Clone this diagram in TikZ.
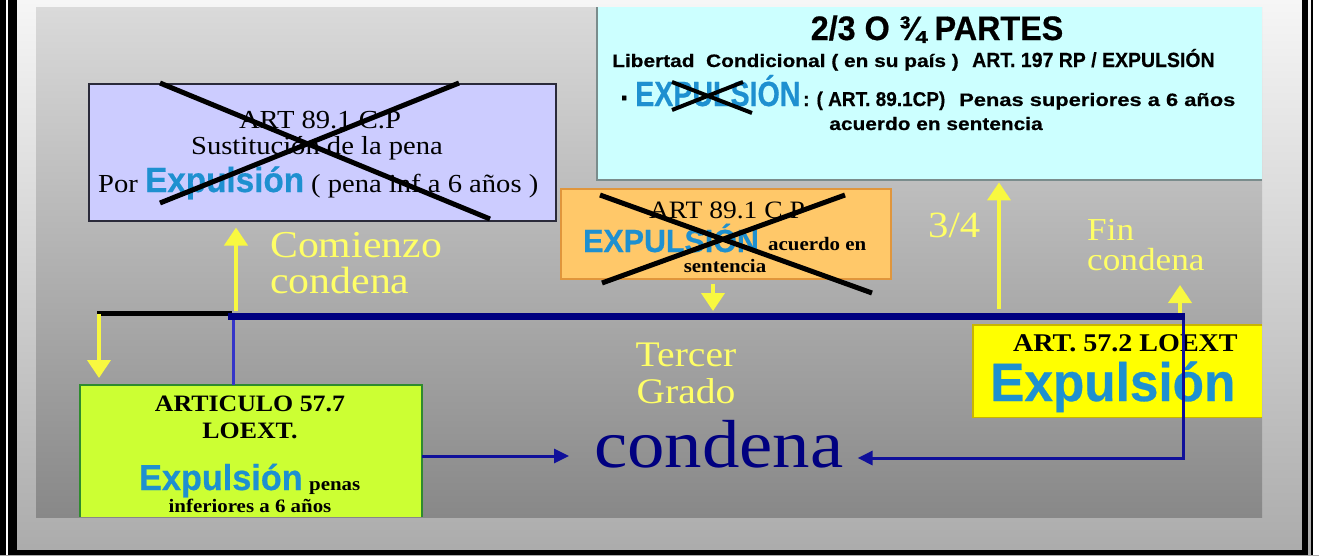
\documentclass[tikz,border=0pt]{standalone}
\usepackage{fontspec}
\usepackage{graphicx}
\setmainfont{Liberation Serif}[FakeStretch=1.1]
\newfontfamily\cond{Liberation Sans}[UprightFont={* Bold},FakeStretch=0.95,FakeBold=0.5]
\usetikzlibrary{arrows.meta}
\newcommand\myfs[1]{\fontsize{#1}{#1}\selectfont}
\newcommand\widen[2][1.25]{\scalebox{#1}[1]{#2}}
\definecolor{panelTop}{HTML}{DADADA}
\definecolor{panelBot}{HTML}{888888}
\definecolor{outTop}{HTML}{F6F6F6}
\definecolor{outBot}{HTML}{ABABAB}
\definecolor{cyanbox}{HTML}{CCFFFF}
\definecolor{cyanedge}{HTML}{7A8C8C}
\definecolor{purplebox}{HTML}{CCCCFF}
\definecolor{purpleedge}{HTML}{2A2A3A}
\definecolor{orangebox}{HTML}{FFC869}
\definecolor{orangeedge}{HTML}{E0963C}
\definecolor{greenbox}{HTML}{CCFF33}
\definecolor{greenedge}{HTML}{2E8B2E}
\definecolor{yellowbox}{HTML}{FFFF00}
\definecolor{yedge}{HTML}{C8B400}
\definecolor{expblue}{HTML}{1E90D0}
\definecolor{navy}{HTML}{000080}
\definecolor{arrowblue}{HTML}{10109A}
\definecolor{thinblue}{HTML}{3535C8}
\definecolor{ylw}{HTML}{F8F840}
\definecolor{ytext}{HTML}{FFFF66}
\begin{document}
\begin{tikzpicture}[x=1pt,y=-1pt,
  txt/.style={inner sep=0pt, anchor=base},
  txtw/.style={inner sep=0pt, anchor=base west},
  cross/.style={line width=5pt, black},
  ylarrow/.style={draw=ylw, line width=4pt, -{Triangle[length=18pt,width=23pt]}},
  blarrow/.style={draw=arrowblue, line width=3pt, -{Triangle[length=15pt,width=14pt]}},
  boxnode/.style={anchor=north west, inner sep=0pt}]
\useasboundingbox (0,0) rectangle (1319,555);
% backgrounds
\shade[top color=outTop,bottom color=outBot] (0,0) rectangle (1319,555);
\shade[top color=panelTop,bottom color=panelBot] (36,7) rectangle (1262,517);
% frame
\fill[black] (0,0) rectangle (6,555);
\fill[white] (6,0) rectangle (8,555);
\fill[black] (8,0) rectangle (17,555);
\fill[black] (17,550) rectangle (1308,555);
\fill[black] (1302,0) rectangle (1308,555);
\fill[black] (1311,0) rectangle (1313,555);
\fill[white] (1313,0) rectangle (1319,555);

% cyan box
\node[boxnode, fill=cyanbox, minimum width=665pt, minimum height=173pt] (cyanbox) at (597,7) {};
\draw[cyanedge, line width=2pt] (cyanbox.north west) -- (cyanbox.south west) -- (cyanbox.south east);
\node[txt, font=\cond\myfs{34}] (c1) at (937,40) {2/3 O ¾ PARTES};
\node[txtw, font=\cond] (c2a) at (612,67) {\myfs{18}\widen[1.22]{Libertad\ \ Condicional ( en su país )}};
\node[txtw, font=\cond\myfs{20.5}] (c2b) at (972,67) {ART. 197 RP / EXPULSIÓN};
\node[txt, font=\cond\myfs{30}] (bul) at (625,108) {·};
\node[txtw, font=\cond\myfs{35}, text=expblue] (cexp) at (635,106) {\widen[0.86]{EXPULSIÓN}};
\node[txtw, font=\cond\myfs{20}] (c3b) at (803,106) {: ( ART. 89.1CP)};
\node[txtw, font=\cond] (c3c) at (959,106) {\myfs{18}\widen[1.28]{Penas superiores a 6 años}};
\node[txt, font=\cond] (c4) at (936,130) {\myfs{18}\widen[1.22]{acuerdo en sentencia}};
\draw[line width=4pt] (672,82) -- (752,113);
\draw[line width=4pt] (672,110) -- (743,82);

% purple box
\node[boxnode, draw=purpleedge, line width=1.5pt, fill=purplebox, minimum width=467pt, minimum height=137pt] (purple) at (88,83) {};
\node[txt, font=\myfs{26}] (p1) at (320,128) {ART 89.1 C.P};
\node[txt, font=\myfs{26}] (p2) at (317,154) {Sustitución de la pena};
\node[txtw, font=\myfs{26}] (p3a) at (98,192) {Por};
\node[txtw, font=\cond\myfs{35}, text=expblue] (p3b) at (145,192) {Expulsión};
\node[txtw, font=\myfs{26}] (p3c) at (311,192) {( pena inf a 6 años )};
\draw[cross] (160,83) -- (490,219);
\draw[cross] (459,83) -- (160,203);

% orange box
\node[boxnode, draw=orangeedge, line width=1.5pt, fill=orangebox, minimum width=330pt, minimum height=90pt] (orange) at (560,188) {};
\node[txt, font=\myfs{25}] (o1) at (727,218) {ART 89.1 C.P};
\node[txtw, font=\cond\myfs{32}, text=expblue] (o2) at (583,252) {EXPULSIÓN};
\node[txtw, font=\bfseries\myfs{19}] (o3) at (768,250) {acuerdo en};
\node[txt, font=\bfseries\myfs{19}] (o4) at (725,272) {sentencia};
\draw[cross] (600,195) -- (872,293);
\draw[cross] (602,283) -- (845,195);

% green box
\node[boxnode, fill=greenbox, minimum width=342pt, minimum height=132pt] (green) at (80,385) {};
\draw[greenedge, line width=2pt] (green.south west) -- (green.north west) -- (green.north east) -- (green.south east);
\node[txt, font=\bfseries\myfs{23.5}] (g1) at (250,411) {ARTICULO 57.7};
\node[txt, font=\bfseries\myfs{23.5}] (g2) at (250,438) {LOEXT.};
\node[txtw, font=\cond\myfs{36}, text=expblue] (g3) at (139,490) {Expulsión};
\node[txtw, font=\bfseries\myfs{19}] (g4) at (309,490) {penas};
\node[txt, font=\bfseries\myfs{19}] (g5) at (250,512) {inferiores a 6 años};

% yellow box
\node[boxnode, fill=yellowbox, minimum width=289pt, minimum height=92pt] (ybox) at (973,325) {};
\draw[yedge, line width=1.2pt] (ybox.north east) -- (ybox.north west) -- (ybox.south west) -- (ybox.south east);
\node[txtw, font=\bfseries\myfs{25.5}] (y1) at (1013,351) {ART. 57.2 LOEXT};
\node[txtw, font=\cond\myfs{54}, text=expblue] (y2) at (990,401) {Expulsión};

% free texts
\node[txtw, font=\myfs{38}, text=ytext] (com1) at (270,257) {Comienzo};
\node[txtw, font=\myfs{38}, text=ytext] (com2) at (270,293) {condena};
\node[txt, font=\myfs{36}, text=ytext] (ter1) at (686,366) {Tercer};
\node[txt, font=\myfs{36}, text=ytext] (ter2) at (686,403) {Grado};
\node[txtw, font=\myfs{68}, text=navy] (cond) at (594,467) {condena};
\node[txtw, font=\myfs{37}, text=ytext] (tq) at (928,237) {3/4};
\node[txtw, font=\myfs{32}, text=ytext] (fin1) at (1087,240) {Fin};
\node[txtw, font=\myfs{32}, text=ytext] (fin2) at (1087,270) {condena};

% coordinates
\coordinate (tlL) at (97,313.5);
\coordinate (tlJ) at (232,313.5);
\coordinate (tlS) at (228,316.5);
\coordinate (tlR) at (1185,316.5);
\coordinate (vj) at (233,319);
\coordinate (dA) at (99,314);
\coordinate (uA) at (236,311);
\coordinate (oA) at (713,311);
\coordinate (qA) at (999,309);
\coordinate (fA) at (1180,313);
\coordinate (fB) at (1180,285);
\coordinate (gA) at (422,456);
\coordinate (rT) at (1183,316);
\coordinate (rB) at (1183,458);

% connectors
\draw[thinblue, line width=3pt] (vj) -- (vj |- green.north);
\draw[blarrow, shorten >=25pt] (gA) -- (gA -| cond.west);
\draw[blarrow, shorten >=14pt] (rT) -- (rB) -- (rB -| cond.east);
\draw[black, line width=5pt] (tlL) -- (tlJ);
\draw[navy, line width=6.5pt] (tlS) -- (tlR);
\draw[ylarrow, shorten >=7pt] (dA) -- (dA |- green.north);
\draw[ylarrow, shorten >=6pt] (uA) -- (uA |- purple.south);
\draw[ylarrow, shorten <=4pt] (oA |- orange.south) -- (oA);
\draw[ylarrow, shorten >=2pt] (qA) -- (qA |- cyanbox.south);
\draw[ylarrow] (fA) -- (fB);
\end{tikzpicture}
\end{document}
